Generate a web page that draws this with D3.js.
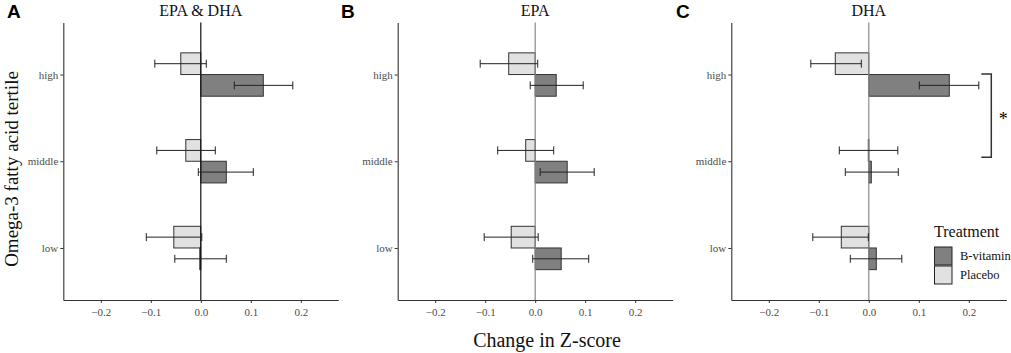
<!DOCTYPE html>
<html>
<head>
<meta charset="utf-8">
<script src="https://cdn.jsdelivr.net/npm/d3@7"></script>
<style>
  body { margin: 0; background: #fff; }
  svg { display: block; }
</style>
</head>
<body>
<div id="chart"></div>
<script>
// data
const tertiles = ["high", "middle", "low"];
const treatments = ["B-vitamin", "Placebo"];
const panelTitles = ["EPA & DHA", "EPA", "DHA"];
const panelLetters = ["A", "B", "C"];
const xTicks = [-0.2, -0.1, 0.0, 0.1, 0.2];

// per panel, per tertile (high, middle, low)
const bvitMean = [[0.125, 0.051, -0.002], [0.042, 0.064, 0.052], [0.161, 0.005, 0.015]];
const bvitLow = [[0.067, -0.005, -0.052], [-0.010, 0.010, -0.005], [0.101, -0.047, -0.037]];
const bvitHigh = [[0.184, 0.105, 0.051], [0.096, 0.118, 0.107], [0.220, 0.059, 0.066]];
const placMean = [[-0.040, -0.030, -0.054], [-0.053, -0.019, -0.048], [-0.067, -0.001, -0.055]];
const placLow = [[-0.092, -0.088, -0.109], [-0.110, -0.075, -0.102], [-0.116, -0.059, -0.112]];
const placHigh = [[0.011, 0.029, 0.002], [0.005, 0.037, 0.006], [-0.015, 0.058, -0.001]];

const W = 1011, H = 353;
const fills = { "B-vitamin": "#808080", "Placebo": "#e1e1e1" };
const serif = "'Liberation Serif', 'Times New Roman', serif";

const svg = d3.select("#chart").append("svg")
    .attr("width", W).attr("height", H);

const plotW = 275, plotTop = 22.5, plotBottom = 300;
const panelX = [63.3, 397.7, 731.3];

const y = d3.scalePoint().domain(tertiles).range([plotTop, plotBottom]).padding(0.6);
const step = y.step();
const yDodge = d3.scaleBand().domain(["Placebo", "B-vitamin"]).range([-0.25 * step, 0.25 * step]);

panelTitles.forEach((title, p) => {
    const g = svg.append("g").attr("transform", `translate(${panelX[p]},0)`);
    const x = d3.scaleLinear().domain([-0.275, 0.275]).range([0, plotW]);

    const rows = [];
    tertiles.forEach((t, i) => {
        rows.push({ t, trt: "Placebo", m: placMean[p][i], lo: placLow[p][i], hi: placHigh[p][i] });
        rows.push({ t, trt: "B-vitamin", m: bvitMean[p][i], lo: bvitLow[p][i], hi: bvitHigh[p][i] });
    });

    // bars
    g.selectAll("rect.bar").data(rows).enter().append("rect")
        .attr("class", "bar")
        .attr("x", d => x(Math.min(0, d.m)))
        .attr("width", d => Math.max(0.6, Math.abs(x(d.m) - x(0))))
        .attr("y", d => y(d.t) + yDodge(d.trt))
        .attr("height", yDodge.bandwidth())
        .attr("fill", d => fills[d.trt])
        .attr("stroke", "#333")
        .attr("stroke-width", 1);

    // zero line
    g.append("line")
        .attr("x1", x(0)).attr("x2", x(0))
        .attr("y1", plotTop).attr("y2", plotBottom)
        .attr("stroke", p === 0 ? "#111" : "#8a8a8a")
        .attr("stroke-width", 1.2);

    // error bars
    const eb = g.selectAll("g.eb").data(rows).enter().append("g")
        .attr("class", "eb")
        .attr("transform", d => `translate(0,${y(d.t) + yDodge(d.trt) + yDodge.bandwidth() / 2})`)
        .attr("stroke", "#222").attr("stroke-width", 1);
    eb.append("line").attr("x1", d => x(d.lo)).attr("x2", d => x(d.hi));
    eb.append("line").attr("x1", d => x(d.lo)).attr("x2", d => x(d.lo)).attr("y1", -4).attr("y2", 4);
    eb.append("line").attr("x1", d => x(d.hi)).attr("x2", d => x(d.hi)).attr("y1", -4).attr("y2", 4);

    // axes
    const xAxis = g.append("g").attr("transform", `translate(0,${plotBottom})`)
        .call(d3.axisBottom(x).tickValues(xTicks).tickFormat(d3.format(".1f")).tickSize(3).tickSizeOuter(0));
    const yAxis = g.append("g")
        .call(d3.axisLeft(y).tickSize(3).tickSizeOuter(0));
    [xAxis, yAxis].forEach(a => {
        a.attr("font-family", serif).attr("font-size", 11);
        a.select(".domain").attr("stroke", "#333").attr("stroke-width", 1.1);
        a.selectAll(".tick line").attr("stroke", "#333");
        a.selectAll(".tick text").attr("fill", "#4d4d4d");
    });
    xAxis.selectAll(".tick text").attr("dy", "0.9em");
    yAxis.selectAll(".tick text").attr("x", -5);

    // panel title and letter
    g.append("text")
        .attr("x", plotW / 2).attr("y", 16)
        .attr("text-anchor", "middle")
        .style("font-family", serif).style("font-size", "16px")
        .attr("fill", "#111")
        .text(title);
    svg.append("text")
        .attr("x", [7, 341, 676][p]).attr("y", 18)
        .style("font-family", "'Liberation Sans', Arial, sans-serif")
        .style("font-size", "19px").style("font-weight", "bold")
        .text(panelLetters[p]);

    // significance bracket in DHA panel
    if (p === 2) {
        const bx = x(0.245);
        const y1 = y("high") + yDodge("B-vitamin") - 0.5, y2 = y("middle") - 4;
        g.append("path")
            .attr("d", `M${bx - 10},${y1}H${bx}V${y2}H${bx - 10}`)
            .attr("fill", "none").attr("stroke", "#333").attr("stroke-width", 1.5);
        g.append("text")
            .attr("x", bx + 12).attr("y", (y1 + y2) / 2 + 9)
            .attr("text-anchor", "middle")
            .style("font-family", serif).style("font-size", "18px")
            .text("*");
    }
});

// axis titles
svg.append("text")
    .attr("transform", "translate(18,169) rotate(-90)")
    .attr("text-anchor", "middle")
    .style("font-family", serif).style("font-size", "19px")
    .attr("fill", "#111")
    .text("Omega-3 fatty acid tertile");

svg.append("text")
    .attr("x", 547).attr("y", 347)
    .attr("text-anchor", "middle")
    .style("font-family", serif).style("font-size", "20px")
    .attr("fill", "#111")
    .text("Change in Z-score");

// legend
const leg = svg.append("g").attr("transform", "translate(934,0)");
leg.append("text")
    .attr("x", 0).attr("y", 237)
    .style("font-family", serif).style("font-size", "16px")
    .attr("fill", "#111")
    .text("Treatment");
treatments.forEach((t, i) => {
    leg.append("rect")
        .attr("x", 0.5).attr("y", 247 + i * 19)
        .attr("width", 17.5).attr("height", 18)
        .attr("fill", fills[t]).attr("stroke", "#222").attr("stroke-width", 1);
    leg.append("text")
        .attr("x", 26).attr("y", 256 + i * 19)
        .attr("dy", "0.35em")
        .style("font-family", serif).style("font-size", "12.5px")
        .attr("fill", "#111")
        .text(t);
});
</script>
</body>
</html>
